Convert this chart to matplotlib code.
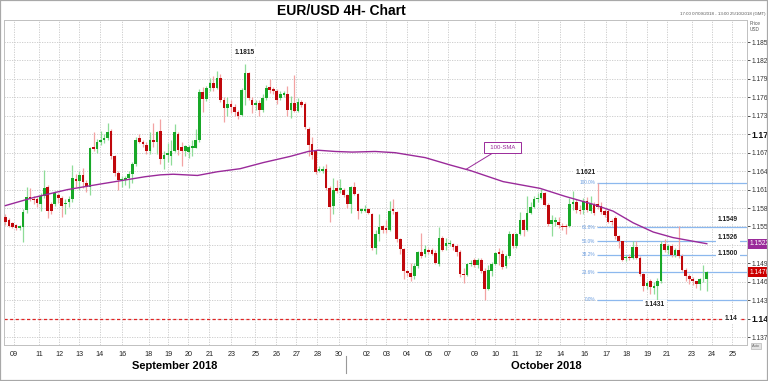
import matplotlib
matplotlib.use('Agg')
import matplotlib.pyplot as plt
import numpy as np
from matplotlib.transforms import blended_transform_factory
from matplotlib.lines import Line2D
from matplotlib.patches import Rectangle

plt.rcParams['font.family'] = ['Liberation Sans', 'DejaVu Sans']

# 4H candles, 07/09/2018 - 23/10/2018
opens = [
    1.1566, 1.1561, 1.1555, 1.1552, 1.1548, 1.1549, 1.1577, 1.1598, 1.1595, 1.1594,
    1.1587, 1.1600, 1.1614, 1.1586, 1.1586, 1.1602, 1.1596, 1.1586, 1.1590, 1.1594,
    1.1627, 1.1624, 1.1633, 1.1621, 1.1614, 1.1679, 1.1676, 1.1687, 1.1690, 1.1694,
    1.1705, 1.1665, 1.1637, 1.1625, 1.1626, 1.1629, 1.1636, 1.1651, 1.1694, 1.1687,
    1.1683, 1.1673, 1.1691, 1.1687, 1.1705, 1.1659, 1.1666, 1.1664, 1.1672, 1.1701,
    1.1679, 1.1672, 1.1671, 1.1677, 1.1678, 1.1691, 1.1769, 1.1758, 1.1775, 1.1783,
    1.1776, 1.1792, 1.1756, 1.1742, 1.1749, 1.1745, 1.1737, 1.1731, 1.1772, 1.1799,
    1.1756, 1.1747, 1.1751, 1.1740, 1.1759, 1.1777, 1.1773, 1.1771, 1.1759, 1.1764,
    1.1765, 1.1740, 1.1751, 1.1738, 1.1752, 1.1749, 1.1709, 1.1684, 1.1672, 1.1640,
    1.1641, 1.1644, 1.1613, 1.1583, 1.1612, 1.1609, 1.1610, 1.1601, 1.1587, 1.1614,
    1.1603, 1.1575, 1.1576, 1.1578, 1.1570, 1.1515, 1.1537, 1.1550, 1.1547, 1.1544,
    1.1578, 1.1574, 1.1529, 1.1513, 1.1477, 1.1475, 1.1470, 1.1486, 1.1508, 1.1505,
    1.1512, 1.1512, 1.1507, 1.1489, 1.1531, 1.1518, 1.1521, 1.1521, 1.1518, 1.1509,
    1.1473, 1.1471, 1.1489, 1.1496, 1.1487, 1.1496, 1.1478, 1.1448, 1.1478, 1.1489,
    1.1509, 1.1505, 1.1485, 1.1502, 1.1537, 1.1518, 1.1537, 1.1561, 1.1545, 1.1572,
    1.1581, 1.1594, 1.1596, 1.1604, 1.1585, 1.1554, 1.1558, 1.1558, 1.1551, 1.1550,
    1.1550, 1.1586, 1.1590, 1.1577, 1.1577, 1.1591, 1.1575, 1.1587, 1.1587, 1.1583,
    1.1575, 1.1575, 1.1559, 1.1564, 1.1534, 1.1526, 1.1498, 1.1500, 1.1498, 1.1516,
    1.1499, 1.1472, 1.1453, 1.1461, 1.1450, 1.1454, 1.1461, 1.1521, 1.1511, 1.1518,
    1.1504, 1.1511, 1.1502, 1.1480, 1.1469, 1.1465, 1.1461, 1.1457, 1.1464, 1.1464,
]
highs = [
    1.1570, 1.1564, 1.1557, 1.1554, 1.1553, 1.1578, 1.1614, 1.1612, 1.1600, 1.1598,
    1.1605, 1.1642, 1.1618, 1.1590, 1.1608, 1.1605, 1.1600, 1.1595, 1.1600, 1.1650,
    1.1635, 1.1640, 1.1645, 1.1625, 1.1680, 1.1703, 1.1692, 1.1705, 1.1700, 1.1718,
    1.1708, 1.1667, 1.1640, 1.1632, 1.1632, 1.1640, 1.1655, 1.1695, 1.1700, 1.1690,
    1.1688, 1.1704, 1.1718, 1.1706, 1.1724, 1.1672, 1.1685, 1.1690, 1.1716, 1.1704,
    1.1688, 1.1683, 1.1683, 1.1690, 1.1708, 1.1773, 1.1777, 1.1779, 1.1792, 1.1795,
    1.1803, 1.1798, 1.1760, 1.1760, 1.1755, 1.1750, 1.1740, 1.1775, 1.1815, 1.1802,
    1.1760, 1.1756, 1.1755, 1.1765, 1.1780, 1.1790, 1.1777, 1.1773, 1.1770, 1.1770,
    1.1778, 1.1762, 1.1797, 1.1759, 1.1755, 1.1752, 1.1712, 1.1695, 1.1675, 1.1648,
    1.1648, 1.1652, 1.1616, 1.1629, 1.1626, 1.1628, 1.1612, 1.1603, 1.1616, 1.1623,
    1.1605, 1.1580, 1.1585, 1.1580, 1.1572, 1.1545, 1.1570, 1.1553, 1.1560, 1.1592,
    1.1594, 1.1576, 1.1532, 1.1515, 1.1480, 1.1491, 1.1490, 1.1510, 1.1540, 1.1520,
    1.1515, 1.1515, 1.1511, 1.1549, 1.1534, 1.1532, 1.1528, 1.1523, 1.1521, 1.1512,
    1.1482, 1.1491, 1.1495, 1.1499, 1.1499, 1.1499, 1.1482, 1.1488, 1.1492, 1.1509,
    1.1515, 1.1512, 1.1505, 1.1542, 1.1540, 1.1540, 1.1573, 1.1563, 1.1599, 1.1590,
    1.1599, 1.1605, 1.1611, 1.1606, 1.1588, 1.1569, 1.1565, 1.1565, 1.1555, 1.1554,
    1.1596, 1.1607, 1.1595, 1.1585, 1.1597, 1.1598, 1.1599, 1.1590, 1.1621, 1.1590,
    1.1578, 1.1578, 1.1562, 1.1567, 1.1536, 1.1527, 1.1503, 1.1505, 1.1526, 1.1526,
    1.1502, 1.1474, 1.1461, 1.1464, 1.1460, 1.1466, 1.1526, 1.1530, 1.1522, 1.1521,
    1.1515, 1.1550, 1.1505, 1.1482, 1.1473, 1.1468, 1.1462, 1.1466, 1.1487, 1.1478,
]
lows = [
    1.1553, 1.1549, 1.1547, 1.1545, 1.1545, 1.1525, 1.1572, 1.1591, 1.1586, 1.1582,
    1.1575, 1.1596, 1.1564, 1.1570, 1.1584, 1.1588, 1.1565, 1.1570, 1.1582, 1.1590,
    1.1615, 1.1610, 1.1612, 1.1606, 1.1602, 1.1672, 1.1670, 1.1683, 1.1685, 1.1690,
    1.1660, 1.1632, 1.1610, 1.1615, 1.1618, 1.1612, 1.1620, 1.1648, 1.1685, 1.1680,
    1.1668, 1.1668, 1.1680, 1.1668, 1.1651, 1.1643, 1.1655, 1.1650, 1.1671, 1.1667,
    1.1648, 1.1665, 1.1662, 1.1665, 1.1677, 1.1688, 1.1736, 1.1754, 1.1770, 1.1770,
    1.1774, 1.1752, 1.1720, 1.1730, 1.1735, 1.1730, 1.1725, 1.1729, 1.1748, 1.1756,
    1.1735, 1.1740, 1.1730, 1.1737, 1.1755, 1.1767, 1.1765, 1.1750, 1.1755, 1.1760,
    1.1730, 1.1727, 1.1737, 1.1736, 1.1745, 1.1708, 1.1665, 1.1659, 1.1635, 1.1638,
    1.1637, 1.1610, 1.1557, 1.1570, 1.1605, 1.1605, 1.1598, 1.1580, 1.1572, 1.1602,
    1.1562, 1.1572, 1.1573, 1.1570, 1.1512, 1.1505, 1.1526, 1.1540, 1.1540, 1.1543,
    1.1570, 1.1525, 1.1505, 1.1465, 1.1470, 1.1462, 1.1465, 1.1483, 1.1499, 1.1500,
    1.1505, 1.1504, 1.1489, 1.1485, 1.1510, 1.1512, 1.1518, 1.1512, 1.1502, 1.1468,
    1.1458, 1.1469, 1.1485, 1.1484, 1.1483, 1.1474, 1.1431, 1.1446, 1.1470, 1.1488,
    1.1488, 1.1481, 1.1482, 1.1498, 1.1515, 1.1515, 1.1536, 1.1535, 1.1542, 1.1570,
    1.1580, 1.1590, 1.1595, 1.1584, 1.1550, 1.1534, 1.1550, 1.1548, 1.1545, 1.1538,
    1.1549, 1.1577, 1.1572, 1.1570, 1.1570, 1.1573, 1.1572, 1.1568, 1.1579, 1.1570,
    1.1565, 1.1555, 1.1553, 1.1530, 1.1515, 1.1494, 1.1494, 1.1495, 1.1497, 1.1497,
    1.1470, 1.1445, 1.1449, 1.1440, 1.1440, 1.1431, 1.1458, 1.1508, 1.1505, 1.1500,
    1.1500, 1.1499, 1.1478, 1.1462, 1.1456, 1.1455, 1.1450, 1.1446, 1.1460, 1.1445,
]
closes = [
    1.1558, 1.1550, 1.1549, 1.1548, 1.1550, 1.1574, 1.1598, 1.1595, 1.1593, 1.1588,
    1.1600, 1.1612, 1.1575, 1.1576, 1.1605, 1.1596, 1.1584, 1.1589, 1.1595, 1.1629,
    1.1624, 1.1633, 1.1622, 1.1614, 1.1678, 1.1676, 1.1687, 1.1691, 1.1694, 1.1704,
    1.1665, 1.1637, 1.1626, 1.1627, 1.1629, 1.1636, 1.1651, 1.1690, 1.1688, 1.1684,
    1.1673, 1.1690, 1.1687, 1.1704, 1.1659, 1.1666, 1.1670, 1.1672, 1.1704, 1.1675,
    1.1672, 1.1681, 1.1680, 1.1681, 1.1691, 1.1769, 1.1758, 1.1775, 1.1783, 1.1775,
    1.1791, 1.1756, 1.1742, 1.1749, 1.1745, 1.1737, 1.1729, 1.1772, 1.1799, 1.1759,
    1.1747, 1.1751, 1.1740, 1.1759, 1.1776, 1.1772, 1.1771, 1.1756, 1.1765, 1.1767,
    1.1740, 1.1751, 1.1738, 1.1752, 1.1748, 1.1711, 1.1683, 1.1667, 1.1639, 1.1643,
    1.1644, 1.1613, 1.1581, 1.1610, 1.1608, 1.1612, 1.1601, 1.1587, 1.1614, 1.1603,
    1.1575, 1.1578, 1.1579, 1.1572, 1.1515, 1.1538, 1.1549, 1.1545, 1.1544, 1.1576,
    1.1575, 1.1529, 1.1513, 1.1478, 1.1474, 1.1468, 1.1486, 1.1508, 1.1502, 1.1513,
    1.1509, 1.1505, 1.1491, 1.1531, 1.1511, 1.1523, 1.1523, 1.1516, 1.1509, 1.1472,
    1.1471, 1.1489, 1.1491, 1.1487, 1.1496, 1.1478, 1.1448, 1.1480, 1.1489, 1.1507,
    1.1505, 1.1484, 1.1502, 1.1537, 1.1518, 1.1537, 1.1561, 1.1545, 1.1572, 1.1581,
    1.1594, 1.1596, 1.1604, 1.1585, 1.1554, 1.1561, 1.1561, 1.1552, 1.1549, 1.1549,
    1.1586, 1.1590, 1.1577, 1.1575, 1.1591, 1.1577, 1.1586, 1.1572, 1.1581, 1.1574,
    1.1569, 1.1558, 1.1557, 1.1534, 1.1526, 1.1496, 1.1500, 1.1498, 1.1516, 1.1499,
    1.1472, 1.1453, 1.1458, 1.1451, 1.1454, 1.1462, 1.1521, 1.1512, 1.1518, 1.1504,
    1.1511, 1.1502, 1.1480, 1.1469, 1.1464, 1.1461, 1.1457, 1.1464, 1.1465, 1.1476,
]

# 100-period SMA (candle index, price)
sma_idx = [0, 7.9, 17.6, 26.9, 39.7, 44.0, 47.6, 54.5, 60.1, 66.6, 73.2, 80.8, 85.9, 88.8, 93.6,
           98.4, 104.9, 110.6, 119.1, 126.2, 131.9, 141.2, 151.7, 158.8, 166.8, 172.4, 178.1,
           183.8, 189.4, 199]
sma_val = [1.1584, 1.1597, 1.1610, 1.1619, 1.1631, 1.1634, 1.1635, 1.1633, 1.1639, 1.1644, 1.1654,
           1.1664, 1.1672, 1.1674, 1.1672, 1.1671, 1.1672, 1.1670, 1.1662, 1.1650, 1.1641, 1.1623,
           1.1612, 1.1599, 1.1586, 1.1575, 1.1556, 1.1541, 1.1532, 1.1522]

day_ticks = [2.3, 9.6, 15.3, 21.0, 26.7, 33.2, 40.6, 46.2, 51.9, 57.9, 64.1, 70.9, 76.9, 82.5,
             88.5, 94.7, 102.4, 108.1, 114.0, 120.0, 125.6, 133.3, 139.0, 144.6, 151.2, 157.4,
             164.2, 170.4, 176.1, 182.1, 187.7, 194.8, 200.5, 206.2]
day_labels = ['09', '11', '12', '13', '14', '16', '18', '19', '20', '21', '23', '25', '26', '27',
              '28', '30', '02', '03', '04', '05', '07', '09', '10', '11', '12', '14', '16', '17',
              '18', '19', '21', '23', '24', '25']

# 1.152 is hidden behind the SMA value box in the original
price_ticks = [1.185, 1.182, 1.179, 1.176, 1.173, 1.17, 1.167, 1.164, 1.161, 1.158, 1.155,
               1.152, 1.149, 1.146, 1.143, 1.14, 1.137]
price_labels = ['1.185', '1.182', '1.179', '1.176', '1.173', '1.17', '1.167', '1.164', '1.161',
                '1.158', '1.155', '', '1.149', '1.146', '1.143', '1.14', '1.137']

fib_levels = [1.1621, 1.1549, 1.1526, 1.1504, 1.1476, 1.1431]
fib_labels = ['100.0%', '61.8%', '50.0%', '38.2%', '23.6%', '0.0%']
fib_start = 167.9

GREEN = '#18a828'
RED = '#c0080c'
PURPLE = '#9a2a9a'
FIB = '#8cb8ee'

fig = plt.figure(figsize=(7.68, 3.81), dpi=100)
ax = fig.add_axes([4 / 768, 1 - 345 / 381, 743 / 768, 325 / 381])
xmin, xmax = -0.4, 210.4
ax.set_xlim(xmin, xmax)
ax.set_ylim(1.13573, 1.18858)

o = np.array(opens)
h = np.array(highs)
l = np.array(lows)
c = np.array(closes)
x = np.arange(len(c))
up = c >= o

# wicks then bodies
ax.vlines(x[up], l[up], h[up], color='#8fdc98', lw=0.9, zorder=2)
ax.vlines(x[~up], l[~up], h[~up], color='#f3a3a3', lw=0.9, zorder=2)
body_lo = np.minimum(o, c)
body_h = np.maximum(np.abs(c - o), 0.00012)
ax.bar(x, body_h, bottom=body_lo, width=0.76,
       color=np.where(up, GREEN, RED), linewidth=0, zorder=3)

ax.plot(sma_idx, sma_val, color=PURPLE, lw=1.0, zorder=4)

# fibonacci retracement
ax.hlines(fib_levels, fib_start, xmax, color=FIB, lw=0.9, zorder=1)
for lev, lab in zip(fib_levels, fib_labels):
    ax.text(fib_start - 0.6, lev, lab, ha='right', va='center', fontsize=3.4, color='#6a9de0')

ax.axhline(1.14, color='#e02424', lw=0.9, ls=(0, (2.5, 2)), zorder=1.5)

lbl = dict(ha='center', va='center', fontsize=4.8, fontweight='bold', color='#222',
           bbox=dict(fc='white', ec='none', pad=1.2), zorder=5)
ax.text(68, 1.18337, '1.1815', **lbl)
ax.text(164.5, 1.16386, '1.1621', **lbl)
ax.text(184.3, 1.14224, '1.1431', **lbl)
ax.text(205, 1.1562, '1.1549', **lbl)
ax.text(205, 1.15313, '1.1526', **lbl)
ax.text(205, 1.15069, '1.1500', **lbl)
ax.text(206, 1.1400, '1.14', **lbl)

ax.annotate('  100-SMA  ', xy=(130.7, 1.1643), xytext=(141, 1.1679),
            ha='center', va='center', fontsize=4.3, color=PURPLE,
            bbox=dict(boxstyle='square,pad=0.5', fc='white', ec=PURPLE, lw=0.7),
            arrowprops=dict(arrowstyle='-', color=PURPLE, lw=0.7, shrinkA=0, shrinkB=0),
            zorder=5)

# axes styling
ax.set_xticks(day_ticks, day_labels)
ax.set_yticks(price_ticks, price_labels)
ax.yaxis.tick_right()
ax.tick_params(axis='x', length=0, pad=4.5, labelsize=5.2, colors='#222')
ax.tick_params(axis='y', length=2.5, width=0.6, pad=1, labelsize=4.8, colors='#333')
for t in ax.get_yticklabels():
    if t.get_text() in ('1.17', '1.14'):
        t.set_fontweight('bold')
        t.set_fontsize(6.2)
        t.set_color('#111')
ax.grid(True, color='#c8c8c8', lw=0.6, ls=(0, (1.5, 1.5)))
ax.set_axisbelow(True)
for s in ax.spines.values():
    s.set_color('#c0c0c0')
    s.set_linewidth(0.7)

# last values on price axis
tr = blended_transform_factory(ax.transAxes, ax.transData)
ax.text(1.003, sma_val[-1], '1.1522', transform=tr, ha='left', va='center', fontsize=4.8,
        color='white', bbox=dict(fc=PURPLE, ec='none', pad=1.0), zorder=6)
ax.text(1.003, closes[-1], '1.1476', transform=tr, ha='left', va='center', fontsize=4.8,
        color='white', bbox=dict(fc='#cc0000', ec='none', pad=1.0), zorder=6)

fig.text(341 / 768, 1 - 11 / 381, 'EUR/USD 4H- Chart', ha='center', va='center',
         fontsize=10, fontweight='bold')
fig.text(765 / 768, 1 - 14 / 381, '17:00 07/09/2018 - 13:00 25/10/2018 (GMT)', ha='right',
         va='center', fontsize=3.2, color='#555')
fig.text(750 / 768, 1 - 21 / 381, 'Price\nUSD', ha='left', va='top', fontsize=3.4,
         color='#555', linespacing=1.3)
fig.text(175 / 768, 1 - 366 / 381, 'September 2018', ha='center', va='center',
         fontsize=8, fontweight='bold')
fig.text(546 / 768, 1 - 366 / 381, 'October 2018', ha='center', va='center',
         fontsize=8, fontweight='bold')
fig.text(756 / 768, 1 - 346 / 381, 'Auto', ha='center', va='center', fontsize=2.8,
         color='#666', bbox=dict(fc='#e4e4e4', ec='#aaa', lw=0.4, pad=0.6))
fig.add_artist(Line2D([346 / 768] * 2, [1 - 356 / 381, 1 - 373 / 381], color='#999', lw=0.8))
fig.add_artist(Rectangle((0, 0), 1, 1, transform=fig.transFigure, fill=False,
                         ec='#a8a8a8', lw=1.6))

fig.savefig('out.png', dpi=100)
